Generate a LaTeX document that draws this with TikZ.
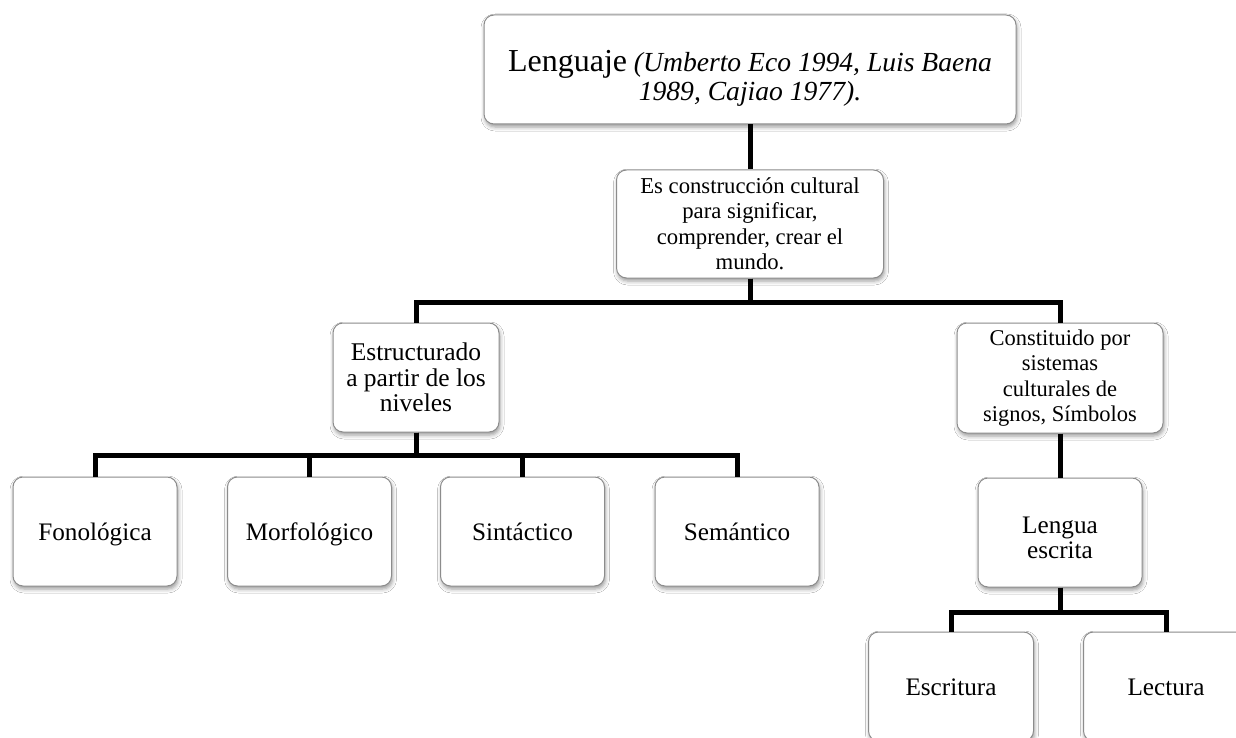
\documentclass[tikz,border=0pt]{standalone}
\usepackage{fontspec}
\setmainfont{Liberation Serif}
\usetikzlibrary{shadows.blur}
\begin{document}
\begin{tikzpicture}[x=1pt,y=-1pt,
  box/.style={draw=black!45, line width=1pt, rounded corners=10pt, fill=white,
    align=center, inner sep=0pt, minimum width=164pt, minimum height=109pt,
    blur shadow={shadow xshift=1pt, shadow yshift=-3pt, shadow blur radius=4pt, shadow opacity=40},
    font=\fontsize{25.2}{25.5}\selectfont},
  leaf/.style={box, text height=20pt, text depth=3pt},
  link/.style={line width=5pt, draw=black}]
\clip (0,0) rectangle (1236,738);
\fill[white] (0,0) rectangle (1236,738);

% root
\node[box, minimum width=532pt, font=\fontsize{27.6}{29}\selectfont] (leng) at (750,69.5)
  {\rule{0pt}{38pt}{\fontsize{32}{29}\selectfont Lenguaje} {\itshape (Umberto Eco 1994, Luis Baena}\\
   {\itshape 1989, Cajiao 1977).}};

% first level
\node[box, minimum width=267pt, minimum height=108pt, font=\fontsize{22.7}{25.5}\selectfont] (mean) at (750,224)
  {Es construcción cultural\\para significar,\\comprender, crear el\\mundo.};

% second level
\node[box, minimum width=166pt, font=\fontsize{25.5}{25.5}\selectfont] (estr) at (416,377.5)
  {Estructurado\\a partir de los\\niveles};
\node[box, minimum width=206pt, minimum height=110pt, font=\fontsize{22.5}{25.5}\selectfont] (cons) at (1060,378)
  {Constituido por\\sistemas\\culturales de\\signos, Símbolos};

% levels of language
\node[leaf] (fono) at (95,531.5) {Fonológica};
\node[leaf] (morf) at (309.5,531.5) {Morfológico};
\node[leaf] (sint) at (522.5,531.5) {Sintáctico};
\node[leaf] (sema) at (737,531.5) {Semántico};

% written language branch
\node[box] (lesc) at (1060,532.5) {\rule{0pt}{27pt}Lengua\\escrita};
\node[leaf, minimum width=165pt] (escr) at (951,686.5) {Escritura};
\node[leaf, minimum width=165pt] (lect) at (1166,686.5) {Lectura};

% connectors
\draw[link] (leng.south) -- (mean.north);
\draw[link] (mean.south) -- ++(0,24) -| (estr.north);
\draw[link] (mean.south) -- ++(0,24) -| (cons.north);
\foreach \c in {fono,morf,sint,sema}
  \draw[link] (estr.south) -- ++(0,23) -| (\c.north);
\draw[link] (cons.south) -- (lesc.north);
\draw[link] (lesc.south) -- ++(0,25) -| (escr.north);
\draw[link] (lesc.south) -- ++(0,25) -| (lect.north);
\end{tikzpicture}
\end{document}
